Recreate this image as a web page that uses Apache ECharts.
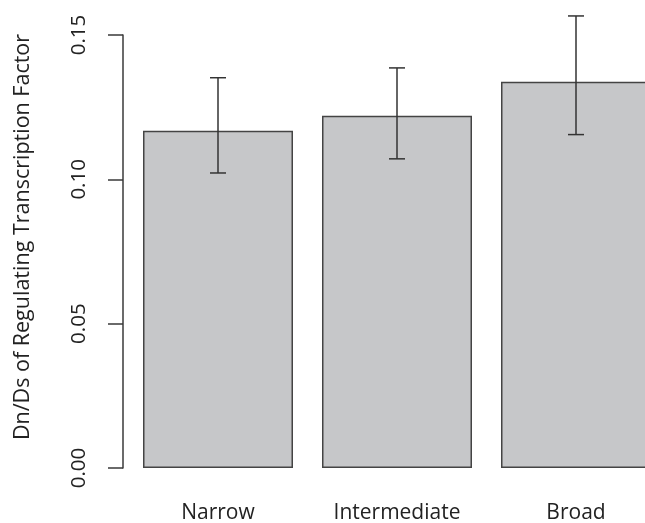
<!DOCTYPE html>
<html>
<head>
<meta charset="utf-8">
<script src="https://cdn.jsdelivr.net/npm/echarts@6/dist/echarts.min.js"></script>
<style>
  html, body { margin: 0; padding: 0; background: #fff; }
  #chart { width: 645px; height: 523px; }
</style>
</head>
<body>
<div id="chart"></div>
<script>
var categories = ['Narrow', 'Intermediate', 'Broad']
var means = [0.1168, 0.1220, 0.1338]
var lower = [0.1022, 0.1071, 0.1155]
var upper = [0.1352, 0.1386, 0.1566]
var yTicks = [0, 0.05, 0.10, 0.15]

var font = 'Open Sans'
var ink = '#3a3a3a'

var errData = categories.map(function (c, i) {
  return [i, lower[i], upper[i]]
})

var chart = echarts.init(document.getElementById('chart'))
var option = {
  backgroundColor: '#fff',
  animation: false,
  grid: {
    left: 128.5,
    right: -20.5,
    top: 35,
    bottom: 55,
    outerBoundsMode: 'none'
  },
  xAxis: {
    type: 'category',
    data: categories,
    axisLine: { show: false },
    axisTick: { show: false },
    splitLine: { show: false },
    axisLabel: {
      margin: 35,
      fontFamily: font,
      fontSize: 21,
      color: '#222'
    }
  },
  yAxis: {
    type: 'value',
    min: 0,
    max: 0.15,
    interval: 0.05,
    offset: 5.5,
    name: 'Dn/Ds of Regulating Transcription Factor',
    nameLocation: 'middle',
    nameGap: 89,
    nameTextStyle: {
      fontFamily: font,
      fontSize: 21.5,
      color: '#222',
      padding: [0, 0, 0, 29]
    },
    axisLine: { show: true, lineStyle: { color: ink, width: 1.5 } },
    axisTick: { show: true, length: 15, lineStyle: { color: ink, width: 1.5 } },
    splitLine: { show: false },
    axisLabel: {
      rotate: 90,
      margin: 33,
      fontFamily: font,
      fontSize: 20.5,
      color: '#222',
      formatter: function (v) {
        return yTicks.indexOf(Math.round(v * 100) / 100) >= 0 ? v.toFixed(2) : ''
      }
    }
  },
  series: [
    {
      type: 'bar',
      data: means,
      barWidth: 150,
      itemStyle: {
        color: '#c6c7c9',
        borderColor: '#444',
        borderWidth: 1.5
      }
    },
    {
      type: 'custom',
      data: errData,
      clip: false,
      z: 10,
      renderItem: function (params, api) {
        var x = api.value(0)
        var lo = api.coord([x, api.value(1)])
        var hi = api.coord([x, api.value(2)])
        var w = 8
        var style = { stroke: '#333', lineWidth: 1.5 }
        return {
          type: 'group',
          children: [
            { type: 'line', shape: { x1: lo[0], y1: lo[1], x2: hi[0], y2: hi[1] }, style: style },
            { type: 'line', shape: { x1: hi[0] - w, y1: hi[1], x2: hi[0] + w, y2: hi[1] }, style: style },
            { type: 'line', shape: { x1: lo[0] - w, y1: lo[1], x2: lo[0] + w, y2: lo[1] }, style: style }
          ]
        }
      }
    }
  ]
}
chart.setOption(option)
</script>
</body>
</html>
